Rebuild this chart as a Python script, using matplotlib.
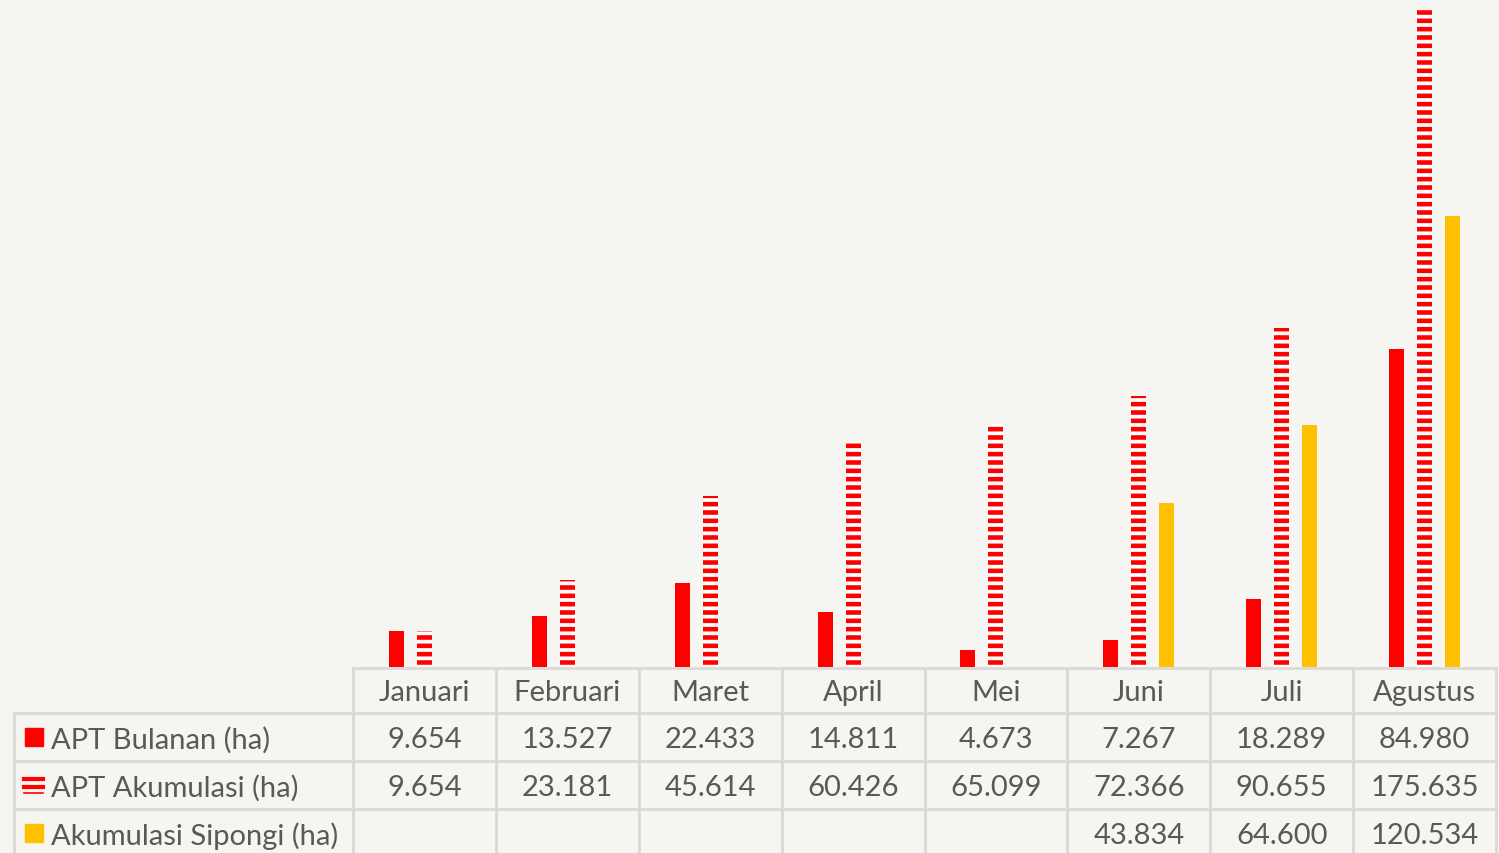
import matplotlib.pyplot as plt
from matplotlib.patches import Rectangle
from matplotlib.lines import Line2D
import matplotlib.transforms as mtransforms

bulan = ['Januari', 'Februari', 'Maret', 'April', 'Mei', 'Juni', 'Juli', 'Agustus']
apt_bulanan = [9.654, 13.527, 22.433, 14.811, 4.673, 7.267, 18.289, 84.980]
apt_akumulasi = [9.654, 23.181, 45.614, 60.426, 65.099, 72.366, 90.655, 175.635]
sipongi = [None, None, None, None, None, 43.834, 64.600, 120.534]
series_names = ['APT Bulanan (ha)', 'APT Akumulasi (ha)', 'Akumulasi Sipongi (ha)']

RED = '#ff0000'
YELLOW = '#ffc000'
BG = '#f7f5f1'
GRID = '#d9d9d9'
TXT = '#595959'

W, H = 1499, 854
plt.rcParams['font.family'] = ['Lato', 'DejaVu Sans']
plt.rcParams['hatch.linewidth'] = 3.3

fig = plt.figure(figsize=(W / 100, H / 100), dpi=100, facecolor=BG)

# plot area: x from 353 to 1496 px, baseline at y=667 px
ax = fig.add_axes([353 / W, (H - 668) / H, (1496 - 353) / W, 668 / H])
ax.set_facecolor('none')
ax.set_xlim(-0.5, len(bulan) - 0.5)
ax.set_ylim(0, 178.6)
ax.axis('off')

x = range(len(bulan))
bw = 0.105
off = 0.196
ax.bar([i - off for i in x], apt_bulanan, width=bw, color=RED, linewidth=0)
ax.bar(list(x), apt_akumulasi, width=bw, facecolor='white', edgecolor=RED,
       hatch='--', linewidth=0)
sx = [i + off for i, v in zip(x, sipongi) if v is not None]
sv = [v for v in sipongi if v is not None]
ax.bar(sx, sv, width=bw, color=YELLOW, linewidth=0)

# ---- data table below the plot ----
def fy(py):
    return (H - py) / H

def fx(px):
    return px / W

trans = mtransforms.blended_transform_factory(ax.transData, fig.transFigure)
col_edges = [i - 0.5 for i in range(len(bulan) + 1)]
row_edges = [669, 714, 762, 810, 858]
lw = 2

# horizontal lines
fig.add_artist(Line2D([fx(353), fx(1496)], [fy(669), fy(669)], color=GRID, lw=lw))
for py in row_edges[1:4]:
    fig.add_artist(Line2D([fx(14), fx(1496)], [fy(py), fy(py)], color=GRID, lw=lw))
# vertical lines
for e in col_edges:
    fig.add_artist(Line2D([e, e], [fy(669), fy(858)], color=GRID, lw=lw, transform=trans))
fig.add_artist(Line2D([fx(14), fx(14)], [fy(714), fy(858)], color=GRID, lw=lw))

fs = 21
for i, b in enumerate(bulan):
    ax.text(i, fy(693), b, transform=trans, ha='center', va='center', fontsize=fs, color=TXT)

rows = [apt_bulanan, apt_akumulasi, sipongi]
centers = [740, 788, 836]
for r, vals in enumerate(rows):
    cy = fy(centers[r])
    fig.text(fx(51), cy, series_names[r], ha='left', va='center', fontsize=fs, color=TXT)
    for i, v in enumerate(vals):
        if v is None:
            continue
        s = f'{v:.3f}'
        ax.text(i, cy, s, transform=trans, ha='center', va='center', fontsize=fs, color=TXT)

# legend keys
fig.add_artist(Rectangle((fx(25), fy(747)), fx(18), 18 / H, color=RED, transform=fig.transFigure))
fig.add_artist(Rectangle((fx(25), fy(843)), fx(18), 18 / H, color=YELLOW, transform=fig.transFigure))
for py, th in [(779.5, 3), (787.5, 3), (794, 1.2)]:
    fig.add_artist(Line2D([fx(24), fx(43)], [fy(py), fy(py)], color=RED, lw=th))

fig.savefig('out.png', dpi=100, facecolor=BG)
plt.close()
